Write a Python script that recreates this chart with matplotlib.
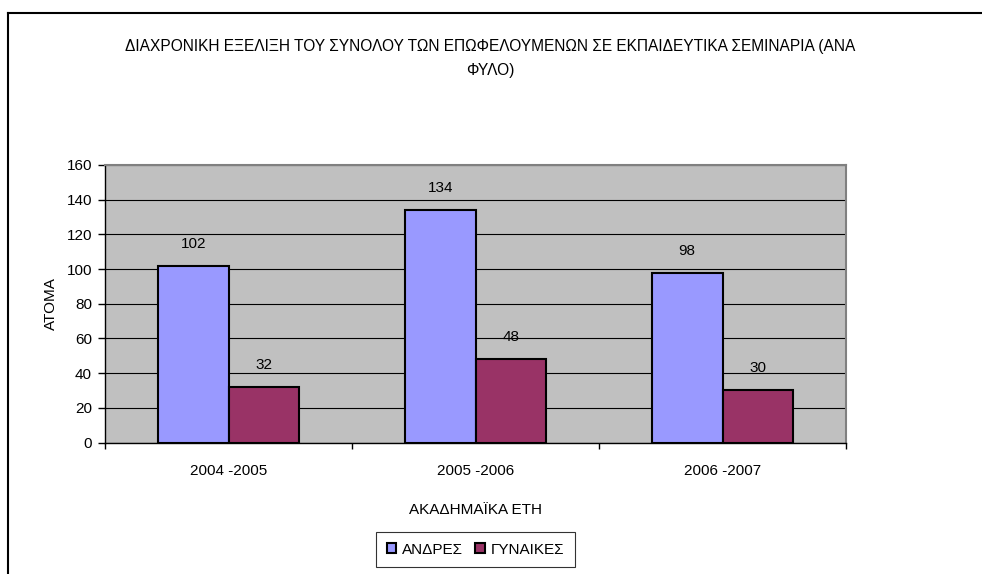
import matplotlib
matplotlib.use('Agg')
import matplotlib.pyplot as plt
from matplotlib.lines import Line2D
import numpy as np

plt.rcParams['font.family'] = ['Liberation Sans', 'DejaVu Sans']

# data
years = ['2004 -2005', '2005 -2006', '2006 -2007']
men = [102, 134, 98]
women = [32, 48, 30]
series_names = ['ΑΝΔΡΕΣ', 'ΓΥΝΑΙΚΕΣ']
title = 'ΔΙΑΧΡΟΝΙΚΗ ΕΞΕΛΙΞΗ ΤΟΥ ΣΥΝΟΛΟΥ ΤΩΝ ΕΠΩΦΕΛΟΥΜΕΝΩΝ ΣΕ ΕΚΠΑΙΔΕΥΤΙΚΑ ΣΕΜΙΝΑΡΙΑ (ΑΝΑ\nΦΥΛΟ)'

W, H = 982, 574
fig = plt.figure(figsize=(W / 100, H / 100), dpi=100)

# outer chart border (only top and left visible)
fig.add_artist(Line2D([8 / W, 8 / W], [0, 1 - 13 / H], color='black', lw=1.5, transform=fig.transFigure))
fig.add_artist(Line2D([8 / W, 1], [1 - 13 / H, 1 - 13 / H], color='black', lw=1.5, transform=fig.transFigure))

# plot area in pixels
left, right, top, bottom = 105, 846, 165, 442.5
ax = fig.add_axes([left / W, 1 - bottom / H, (right - left) / W, (bottom - top) / H])
ax.set_facecolor('#C0C0C0')

x = np.arange(len(years))
w = 1 / 3.5
fs = 11
b1 = ax.bar(x - w / 2, men, width=w, color='#9999FF', edgecolor='black', linewidth=1.5, label=series_names[0], zorder=3)
b2 = ax.bar(x + w / 2, women, width=w, color='#993366', edgecolor='black', linewidth=1.5, label=series_names[1], zorder=3)

for xi, v in zip(x, men):
    ax.annotate(str(v), (xi - w / 2, v), xytext=(0, 22), textcoords='offset pixels', ha='center', va='center', fontsize=fs)
for xi, v in zip(x, women):
    ax.annotate(str(v), (xi + w / 2, v), xytext=(0, 22), textcoords='offset pixels', ha='center', va='center', fontsize=fs)

ax.set_xlim(-0.5, 2.5)
ax.set_ylim(0, 160)
ax.set_yticks(range(0, 161, 20))
ax.yaxis.grid(True, color='black', lw=0.8, zorder=1)
ax.set_axisbelow(True)
ax.tick_params(axis='y', direction='out', length=5, width=1, labelsize=fs, pad=4.3)

# category boundary ticks and centered labels
ax.set_xticks(np.arange(-0.5, 3, 1))
ax.set_xticklabels([])
ax.set_xticks(x, minor=True)
ax.set_xticklabels(years, minor=True, fontsize=fs)
ax.tick_params(axis='x', which='major', direction='out', length=4, width=1)
ax.tick_params(axis='x', which='minor', length=0, pad=15.5)

for s in ['top', 'right']:
    ax.spines[s].set_color('#808080')
    ax.spines[s].set_linewidth(1.5)
for s in ['left', 'bottom']:
    ax.spines[s].set_color('black')
    ax.spines[s].set_linewidth(1)

ax.set_ylabel('ΑΤΟΜΑ', fontsize=fs, labelpad=6.5)
ax.set_xlabel('ΑΚΑΔΗΜΑΪΚΑ ΕΤΗ', fontsize=fs, labelpad=18)

fig.text(490 / W, 1 - 58.5 / H, title, ha='center', va='center', fontsize=11.2, linespacing=1.75)

leg = fig.legend(handles=[b1, b2], labels=series_names, loc='center',
                 bbox_to_anchor=((left + right) / 2 / W, 1 - 549.5 / H), ncol=2,
                 fontsize=fs, frameon=True, fancybox=False, edgecolor='black',
                 handlelength=0.6, handleheight=0.6, handletextpad=0.4, columnspacing=0.8,
                 borderpad=0.7)
leg.get_frame().set_linewidth(0.8)

fig.savefig('out.png', dpi=100)
